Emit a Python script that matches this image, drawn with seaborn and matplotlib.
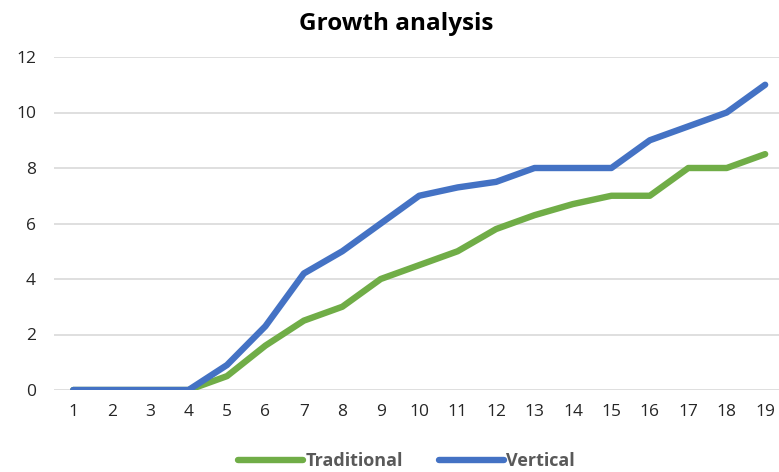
import matplotlib.pyplot as plt
import seaborn as sns
import pandas as pd

# Data
periods = list(range(1, 20))
traditional = [0, 0, 0, 0, 0.5, 1.6, 2.5, 3, 4, 4.5, 5, 5.8, 6.3, 6.7, 7, 7, 8, 8, 8.5]
vertical = [0, 0, 0, 0, 0.9, 2.3, 4.2, 5, 6, 7, 7.3, 7.5, 8, 8, 8, 9, 9.5, 10, 11]
series_names = ["Traditional", "Vertical"]
y_ticks = [0, 2, 4, 6, 8, 10, 12]

df = pd.DataFrame({"Period": periods, "Traditional": traditional, "Vertical": vertical})
long_df = pd.melt(df, id_vars=["Period"], value_vars=series_names,
                  var_name="Series", value_name="Value")

sns.set_style("white")
plt.rcParams['font.family'] = ['Open Sans', 'DejaVu Sans']

fig = plt.figure(figsize=(7.79, 4.72), dpi=100)
ax = fig.add_axes([54 / 779, 1 - 390 / 472, 1 - 54 / 779, (390 - 57) / 472])

palette = {"Traditional": "#70AD47", "Vertical": "#4472C4"}
sns.lineplot(data=long_df, x="Period", y="Value", hue="Series", palette=palette,
             linewidth=4.6, ax=ax, solid_capstyle="round")

ax.set_xlim(0.5, 19.36)
ax.set_ylim(0, 12)
ax.set_yticks(y_ticks)
ax.set_xticks(periods)
ax.yaxis.grid(True, color="#d9d9d9", linewidth=1.2)
ax.set_axisbelow(True)
for s in ax.spines.values():
    s.set_visible(False)
ax.tick_params(axis="both", length=0, labelsize=12.5, colors="#262626")
ax.tick_params(axis="y", pad=13)
ax.tick_params(axis="x", pad=10)
ax.set_xlabel("")
ax.set_ylabel("")

fig.suptitle("Growth analysis", x=0.508, y=0.975, fontsize=17.5, fontweight="bold", color="black")

handles, labels = ax.get_legend_handles_labels()
ax.legend(handles, labels, loc="center", bbox_to_anchor=(0.486, -0.213),
          ncol=2, frameon=False, fontsize=13, handlelength=3.6, handletextpad=0.1,
          columnspacing=2.0, labelcolor="#595959")
for t in ax.get_legend().get_texts():
    t.set_fontweight("bold")

fig.savefig("out.png", dpi=100)
